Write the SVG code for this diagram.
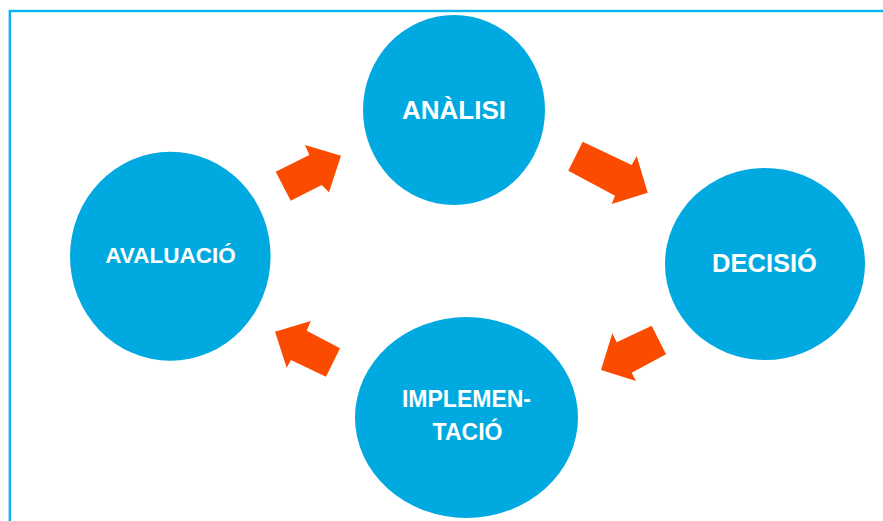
<svg xmlns="http://www.w3.org/2000/svg" width="883" height="521" viewBox="0 0 883 521">
<style>
.node{fill:#00A9E0}
.lbl{fill:#fff;font-family:"Liberation Sans",Arial,sans-serif;font-weight:bold;text-anchor:middle}
.arr{fill:#FA4B00}
</style>
<rect width="883" height="521" fill="#fff"/>
<rect x="9.8" y="11" width="900" height="600" fill="none" stroke="#0AB4EE" stroke-width="2.4"/>
<g id="connectors">
<polygon class="arr" points="275.7,171.7 290.7,200.7 321.7,185 329,192.3 341,155.7 305,145 309.3,155"/>
<polygon class="arr" points="568.3,170.7 582.7,141.7 631.7,165 636.7,156 647.7,192.7 611.7,204 615,195.7"/>
<polygon class="arr" points="651.7,325.7 666,354.3 631.7,372.7 636,381 601,370 612.3,333.3 616.7,342.3"/>
<polygon class="arr" points="340,348.3 326,376.7 291,360 286.7,367.7 275,331.7 310.7,321 306.7,330.7"/>
</g>
<g id="analisi">
<ellipse class="node" cx="454" cy="110" rx="91" ry="95"/>
<text class="lbl" x="454" y="119" font-size="26">ANÀLISI</text>
</g>
<g id="decisio">
<ellipse class="node" cx="765" cy="264" rx="100" ry="96"/>
<text class="lbl" x="764.5" y="272" font-size="25.5">DECISIÓ</text>
</g>
<g id="implementacio">
<ellipse class="node" cx="466.5" cy="417.5" rx="111.5" ry="100.5"/>
<text class="lbl" x="466.5" y="406.5" font-size="23">IMPLEMEN-</text>
<text class="lbl" x="467.5" y="440" font-size="23">TACIÓ</text>
</g>
<g id="avaluacio">
<ellipse class="node" cx="170.3" cy="256.3" rx="100.3" ry="104.5"/>
<text class="lbl" x="170.5" y="262.5" font-size="22.5">AVALUACIÓ</text>
</g>
</svg>
